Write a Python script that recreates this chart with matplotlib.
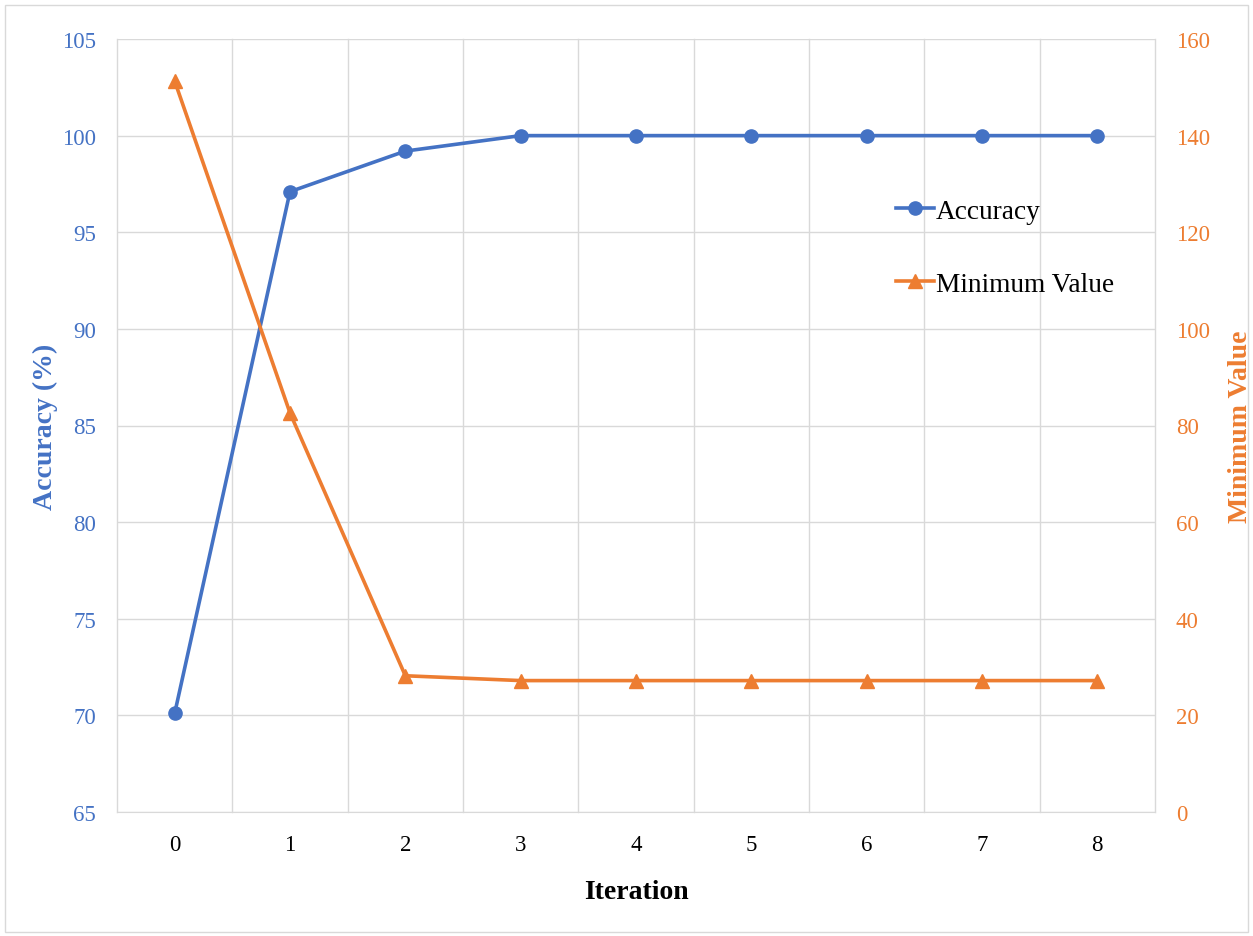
import matplotlib
matplotlib.use("Agg")
import matplotlib.pyplot as plt
from matplotlib.patches import Rectangle

iterations = [0, 1, 2, 3, 4, 5, 6, 7, 8]
accuracy = [70.1, 97.1, 99.2, 100, 100, 100, 100, 100, 100]
min_value = [151.3, 82.6, 28.2, 27.2, 27.2, 27.2, 27.2, 27.2, 27.2]
left_ticks = [65, 70, 75, 80, 85, 90, 95, 100, 105]
right_ticks = [0, 20, 40, 60, 80, 100, 120, 140, 160]

BLUE = "#4472C4"
ORANGE = "#ED7D31"
GRID = "#D9D9D9"

plt.rcParams['font.family'] = ['Liberation Serif', 'DejaVu Serif']

fig = plt.figure(figsize=(12.53, 9.37), dpi=100)
ax = fig.add_axes([117/1253, 1-813/937, (1155-117)/1253, (813-40)/937])
ax2 = ax.twinx()

x = list(range(len(iterations)))
l1, = ax.plot(x, accuracy, color=BLUE, lw=2.6, marker='o', ms=9.5, label='Accuracy', zorder=3)
l2, = ax2.plot(x, min_value, color=ORANGE, lw=2.6, marker='^', ms=9.5, label='Minimum Value', zorder=3)

ax.set_xlim(-0.5, len(iterations) - 0.5)
ax.set_ylim(65, 105)
ax2.set_ylim(0, 160)
ax.set_yticks(left_ticks)
ax2.set_yticks(right_ticks)
ax.set_xticks(x)
ax.set_xticklabels([str(i) for i in iterations])

ax.grid(True, which='major', axis='y', color=GRID, lw=1)
for b in range(len(iterations) + 1):
    ax.axvline(b - 0.5, color=GRID, lw=1, clip_on=False, zorder=0)
ax.set_axisbelow(True)

for a in (ax, ax2):
    for s in a.spines.values():
        s.set_visible(False)
ax.spines['bottom'].set_visible(True)
ax.spines['bottom'].set_color(GRID)

ax.tick_params(axis='both', which='both', length=0)
ax2.tick_params(axis='both', which='both', length=0)
ax.tick_params(axis='y', colors=BLUE, labelsize=16.5, pad=15)
ax.tick_params(axis='x', colors='black', labelsize=16.5, pad=16)
ax2.tick_params(axis='y', colors=ORANGE, labelsize=16.5, pad=15)

ax.set_xlabel('Iteration', fontsize=20, fontweight='bold', labelpad=17)
ax.set_ylabel('Accuracy (%)', fontsize=20, fontweight='bold', color=BLUE, labelpad=3)
ax2.set_ylabel('Minimum Value', fontsize=20, fontweight='bold', color=ORANGE, labelpad=13)

leg = ax2.legend(handles=[l1, l2], loc='upper left', bbox_to_anchor=(0.74, 0.808),
                 frameon=False, fontsize=19.7, handlelength=1.4, handletextpad=0.05,
                 labelspacing=1.75, borderaxespad=0)

fig.patches.append(Rectangle((0.004, 0.004), 0.992, 0.99, transform=fig.transFigure,
                             fill=False, edgecolor=GRID, lw=1))

fig.savefig('out.png', dpi=100)
